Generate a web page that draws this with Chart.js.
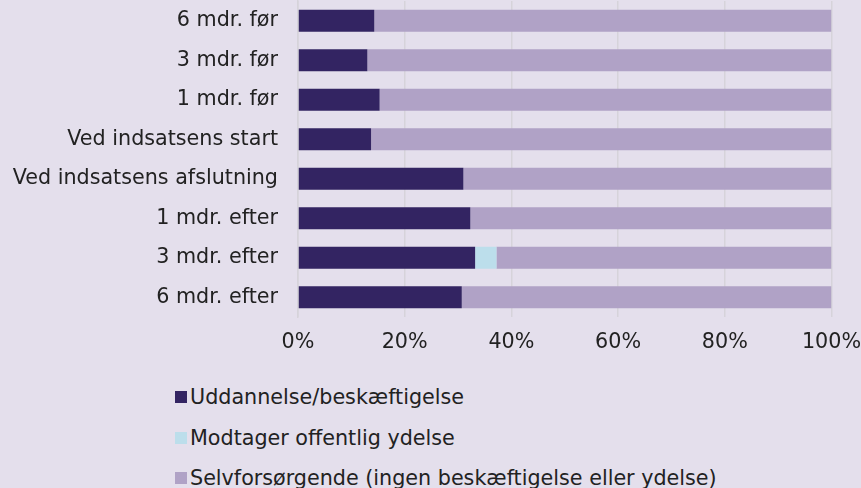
<!DOCTYPE html>
<html>
<head>
<meta charset="utf-8">
<script src="https://cdn.jsdelivr.net/npm/chart.js@4/dist/chart.umd.min.js"></script>
<style>
  html, body { margin: 0; padding: 0; background: #e4dfec; }
  body { width: 861px; height: 488px; overflow: hidden; font-family: "DejaVu Sans", sans-serif; }
  #wrap { position: relative; width: 861px; height: 360px; }
  #legende { list-style: none; margin: 0; padding: 17px 0 0 175px; }
  #legende li { height: 40.5px; font-size: 20.7px; color: #222; display: flex; align-items: center; }
  #legende span { display: inline-block; width: 12px; height: 12px; margin-right: 3px; }
</style>
</head>
<body>
<div id="wrap"><canvas id="graf"></canvas></div>
<ul id="legende"></ul>
<script>
const categories = [
  "6 mdr. før", "3 mdr. før", "1 mdr. før", "Ved indsatsens start",
  "Ved indsatsens afslutning", "1 mdr. efter", "3 mdr. efter", "6 mdr. efter"
];
const uddannelse = [14.3, 13.0, 15.3, 13.7, 31.0, 32.3, 33.2, 30.7];
const ydelse = [0, 0, 0, 0, 0, 0, 4.0, 0];
const selvforsorgende = [85.7, 87.0, 84.7, 86.3, 69.0, 67.7, 62.8, 69.3];
const xTicks = [0, 20, 40, 60, 80, 100];

const couleurs = ["#332462", "#bcdeeb", "#b0a2c6"];
const police = { family: 'DejaVu Sans', size: 20.7 };
const ctx = document.getElementById("graf");
const graf = new Chart(ctx, {
  type: 'bar',
  data: {
    labels: categories,
    datasets: [
      { label: 'Uddannelse/beskæftigelse', data: uddannelse, backgroundColor: couleurs[0] },
      { label: 'Modtager offentlig ydelse', data: ydelse, backgroundColor: couleurs[1] },
      { label: 'Selvforsørgende (ingen beskæftigelse eller ydelse)', data: selvforsorgende, backgroundColor: couleurs[2] }
    ]
  },
  options: {
    indexAxis: 'y',
    responsive: true,
    maintainAspectRatio: false,
    animation: false,
    datasets: { bar: { barPercentage: 0.56, categoryPercentage: 1 } },
    layout: { padding: { top: 1, right: 29.5, bottom: 0, left: 0 } },
    plugins: { legend: { display: false }, tooltip: { enabled: false } },
    scales: {
      x: {
        stacked: true, min: 0, max: 100,
        afterBuildTicks: (s) => { s.ticks = xTicks.map(v => ({ value: v })); },
        afterFit: (s) => { s.height = 43; s.paddingLeft = 0; s.paddingRight = 0; },
        grid: { color: '#d6d3da', lineWidth: 1.5, drawTicks: false },
        border: { display: false },
        ticks: { padding: 13, color: '#222', font: police, maxRotation: 0, callback: v => v + '%' }
      },
      y: {
        stacked: true,
        afterFit: (s) => { s.width = 298; s.paddingTop = 0; s.paddingBottom = 0; },
        grid: { display: false, drawTicks: false },
        border: { display: true, color: '#d6d3da', width: 1.5 },
        ticks: { padding: 20, color: '#222', font: police }
      }
    }
  }
});

const legende = document.getElementById("legende");
graf.data.datasets.forEach(ds => {
  const li = document.createElement("li");
  li.innerHTML = `<span style="background:${ds.backgroundColor}"></span>${ds.label}`;
  legende.appendChild(li);
});
</script>
</body>
</html>
